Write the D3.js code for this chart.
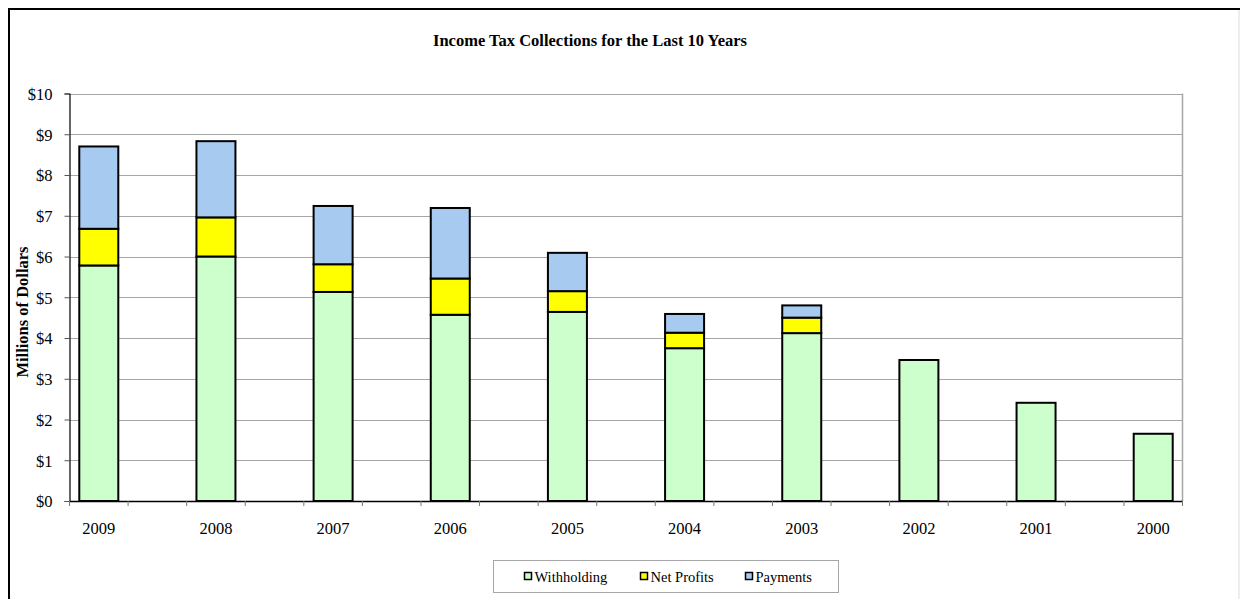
<!DOCTYPE html>
<html>
<head>
<meta charset="utf-8">
<script src="https://cdn.jsdelivr.net/npm/d3@7"></script>
<style>
  html, body { margin: 0; padding: 0; background: #fff; }
  svg { display: block; font-family: "Liberation Serif", "Times New Roman", serif; }
</style>
</head>
<body>
<svg id="chart" width="1240" height="599"></svg>
<script>
// ---- data ----
const years = ["2009", "2008", "2007", "2006", "2005", "2004", "2003", "2002", "2001", "2000"];
const withholding = [5.78, 6.00, 5.13, 4.57, 4.64, 3.75, 4.12, 3.46, 2.41, 1.65];
const netProfits  = [0.90, 0.96, 0.68, 0.89, 0.51, 0.38, 0.38, 0, 0, 0];
const payments    = [2.02, 1.87, 1.43, 1.73, 0.94, 0.46, 0.30, 0, 0, 0];
const seriesNames = ["Withholding", "Net Profits", "Payments"];
const yTicks = [0, 1, 2, 3, 4, 5, 6, 7, 8, 9, 10];

const colors = ["#CCFFCC", "#FFFF00", "#A6CAF0"];

(function () {
// Category slots: each year followed by an empty slot (as in the original spreadsheet chart)
const slots = [];
years.forEach((yr, i) => { slots.push(yr); if (i < years.length - 1) slots.push("_gap" + i); });

const svg = d3.select("#chart");
const FONT = "Liberation Serif, Times New Roman, serif";

// outer frame
svg.append("rect").attr("x", 9).attr("y", 9).attr("width", 1240).attr("height", 620)
  .attr("fill", "none").attr("stroke", "#000").attr("stroke-width", 2);
svg.append("line").attr("x1", 1239).attr("x2", 1239).attr("y1", 10).attr("y2", 599)
  .attr("stroke", "#ddd").attr("stroke-width", 1);

const pLeft = 69.5, pRight = 1182.5, pTop = 93.5, pBottom = 501;

const x = d3.scaleBand().domain(slots).range([pLeft, pRight]).paddingInner(0).paddingOuter(0);
const y = d3.scaleLinear().domain([0, 10]).range([pBottom, pTop]);

// gridlines
svg.append("g").selectAll("line").data(yTicks.filter(d => d > 0)).join("line")
  .attr("x1", pLeft).attr("x2", pRight)
  .attr("y1", d => Math.round(y(d)) + 0.5).attr("y2", d => Math.round(y(d)) + 0.5)
  .attr("stroke", "#a6a6a6").attr("stroke-width", 1);

// plot area right border
svg.append("line").attr("x1", pRight).attr("x2", pRight).attr("y1", pTop).attr("y2", pBottom)
  .attr("stroke", "#a6a6a6").attr("stroke-width", 1.5);

// stacked data
const data = years.map((yr, i) => ({ year: yr, w: withholding[i], n: netProfits[i], p: payments[i] }));
const stacked = d3.stack().keys(["w", "n", "p"])(data);

const barW = 39;
stacked.forEach((layer, li) => {
  svg.append("g").selectAll("rect").data(layer.filter(d => d[1] - d[0] > 0)).join("rect")
    .attr("x", d => x(d.data.year) + x.bandwidth() / 2 - barW / 2)
    .attr("width", barW)
    .attr("y", d => y(d[1]))
    .attr("height", d => y(d[0]) - y(d[1]))
    .attr("fill", colors[li])
    .attr("stroke", "#000")
    .attr("stroke-width", 2);
});

// y axis
const yAxis = d3.axisLeft(y).tickValues(yTicks).tickFormat(d => "$" + d).tickSize(5).tickPadding(12);
const gy = svg.append("g").attr("transform", `translate(${pLeft},0)`).call(yAxis);
gy.attr("font-family", FONT).attr("font-size", 16.5);
gy.select(".domain").attr("stroke", "#000").attr("stroke-width", 1.2);
gy.selectAll(".tick line").attr("stroke", "#555");
gy.selectAll("text").attr("fill", "#000").attr("dy", "0.35em");

// x axis
const xAxis = d3.axisBottom(x).tickFormat(d => d.startsWith("_") ? "" : d).tickSize(0).tickPadding(21);
const gx = svg.append("g").attr("transform", `translate(0,${pBottom})`).call(xAxis);
gx.attr("font-family", FONT).attr("font-size", 16.5);
gx.select(".domain").attr("stroke", "#000").attr("stroke-width", 1.5);
gx.selectAll("text").attr("fill", "#000");
// boundary tick marks
const bounds = slots.map(s => x(s)).concat([pRight]);
svg.append("g").selectAll("line").data(bounds).join("line")
  .attr("x1", d => d).attr("x2", d => d)
  .attr("y1", pBottom).attr("y2", pBottom + 5)
  .attr("stroke", "#777").attr("stroke-width", 1);

// title
svg.append("text").attr("x", 590).attr("y", 46).attr("text-anchor", "middle")
  .attr("font-family", FONT).attr("font-size", 16.5).attr("font-weight", "bold")
  .text("Income Tax Collections for the Last 10 Years");

// y axis title
svg.append("text").attr("transform", `translate(28,312) rotate(-90)`)
  .attr("text-anchor", "middle").attr("font-family", FONT).attr("font-size", 16.5).attr("font-weight", "bold")
  .text("Millions of Dollars");

// legend
const lg = svg.append("g");
lg.append("rect").attr("x", 493.5).attr("y", 560.5).attr("width", 345).attr("height", 32)
  .attr("fill", "#fff").attr("stroke", "#a6a6a6").attr("stroke-width", 1);
const legendX = [524.5, 640.5, 745.5];
seriesNames.forEach((name, i) => {
  lg.append("rect").attr("x", legendX[i]).attr("y", 572.5).attr("width", 7).attr("height", 7)
    .attr("fill", colors[i]).attr("stroke", "#000").attr("stroke-width", 1.5);
  lg.append("text").attr("x", legendX[i] + 10).attr("y", 582)
    .attr("font-family", FONT).attr("font-size", 14.5).text(name);
});
})();
</script>
</body>
</html>
